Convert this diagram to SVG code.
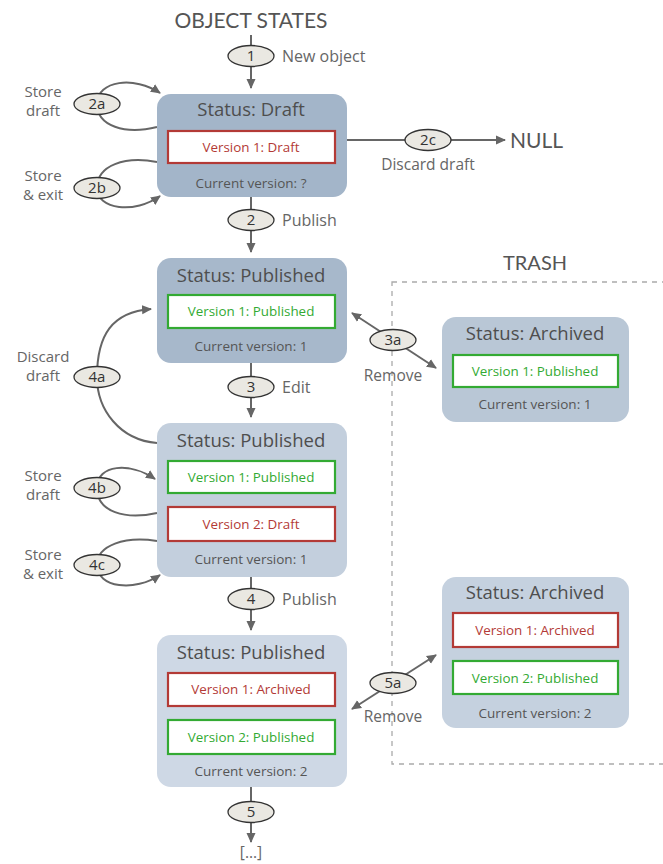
<svg xmlns="http://www.w3.org/2000/svg" width="663" height="864" viewBox="0 0 663 864">
<defs>
<marker id="ah" viewBox="0 0 10 10" refX="9" refY="5" markerWidth="10" markerHeight="10" markerUnits="userSpaceOnUse" orient="auto-start-reverse">
<path d="M0,0.5 L10,5 L0,9.5 Z" fill="#666"/>
</marker>
<style>
text{font-family:"Open Sans","DejaVu Sans",sans-serif;}
.title{font-family:"Lato","Open Sans",sans-serif;font-size:21px;fill:#555;}
.st{font-size:18.5px;fill:#4e4e4e;text-anchor:middle;}
.cur{font-size:13.5px;fill:#555;text-anchor:middle;}
.lbl{font-size:16px;fill:#666;}
.lblc{font-size:15.5px;fill:#666;text-anchor:middle;}
.side{font-size:15px;fill:#666;text-anchor:middle;}
.red{fill:#fff;stroke:#b33a36;stroke-width:2.2;}
.grn{fill:#fff;stroke:#33aa33;stroke-width:2.2;}
.rt{font-size:13.4px;fill:#b33a36;text-anchor:middle;}
.gt{font-size:13.4px;fill:#33aa33;text-anchor:middle;}
.ell{fill:#eae8e2;stroke:#333;stroke-width:1.3;}
.et{font-size:15px;fill:#333;text-anchor:middle;}
.con{fill:none;stroke:#666;stroke-width:2;}
</style>
</defs>
<rect width="663" height="864" fill="#fff"/>
<text class="title" x="251" y="28" text-anchor="middle">OBJECT STATES</text>
<text class="title" x="535" y="270" text-anchor="middle" style="font-size:20px">TRASH</text>
<rect x="392" y="282" width="290" height="482" fill="none" stroke="#aaa" stroke-width="1.3" stroke-dasharray="5,5"/>

<g id="connectors">
<path class="con" d="M251,35 V88" marker-end="url(#ah)"/>
<path class="con" d="M251,197 V252" marker-end="url(#ah)"/>
<path class="con" d="M251,363 V417" marker-end="url(#ah)"/>
<path class="con" d="M251,577 V630" marker-end="url(#ah)"/>
<path class="con" d="M251,787 V842" marker-end="url(#ah)"/>
<path class="con" d="M346,140 H505" marker-end="url(#ah)"/>
<path class="con" d="M157,127 C125,135 97,126 97,104 C97,80 135,76 160,93" marker-end="url(#ah)"/>
<path class="con" d="M157,162 C125,156 97,165 97,188 C97,210 135,214 160,196" marker-end="url(#ah)"/>
<path class="con" d="M157,443 C120,440 97,410 97,377 C97,335 112,312 151,309" marker-end="url(#ah)"/>
<path class="con" d="M157,513 C125,520 97,512 97,488 C97,464 130,462 155,479" marker-end="url(#ah)"/>
<path class="con" d="M157,541 C125,536 97,545 97,565 C97,588 135,592 160,575" marker-end="url(#ah)"/>
<path class="con" d="M352,313 L436,368" marker-start="url(#ah)" marker-end="url(#ah)"/>
<path class="con" d="M352,709 L436,655" marker-start="url(#ah)" marker-end="url(#ah)"/>
</g>

<g id="e1"><ellipse class="ell" cx="251" cy="56" rx="23" ry="10.5"/><text class="et" x="251" y="61">1</text><text class="lbl" x="282" y="62">New object</text></g>
<g id="e2"><ellipse class="ell" cx="251" cy="220" rx="23" ry="10.5"/><text class="et" x="251" y="225">2</text><text class="lbl" x="282" y="226">Publish</text></g>
<g id="e3"><ellipse class="ell" cx="251" cy="387" rx="23" ry="10.5"/><text class="et" x="251" y="392">3</text><text class="lbl" x="282" y="393">Edit</text></g>
<g id="e4"><ellipse class="ell" cx="251" cy="599" rx="23" ry="10.5"/><text class="et" x="251" y="604">4</text><text class="lbl" x="282" y="605">Publish</text></g>
<g id="e5"><ellipse class="ell" cx="251" cy="812" rx="23" ry="10.5"/><text class="et" x="251" y="817">5</text><text class="lblc" x="251" y="858">[...]</text></g>
<g id="e2a"><ellipse class="ell" cx="97" cy="104" rx="23" ry="10.5"/><text class="et" x="97" y="109">2a</text><text class="side" x="43" y="97">Store</text><text class="side" x="43" y="116">draft</text></g>
<g id="e2b"><ellipse class="ell" cx="97" cy="188" rx="23" ry="10.5"/><text class="et" x="97" y="193">2b</text><text class="side" x="43" y="181">Store</text><text class="side" x="43" y="200">&amp; exit</text></g>
<g id="e2c"><ellipse class="ell" cx="428" cy="140" rx="23" ry="10.5"/><text class="et" x="428" y="145">2c</text><text class="lblc" x="428" y="170">Discard draft</text><text class="title" x="510" y="148">NULL</text></g>
<g id="e4a"><ellipse class="ell" cx="97" cy="377" rx="23" ry="10.5"/><text class="et" x="97" y="382">4a</text><text class="side" x="43" y="362">Discard</text><text class="side" x="43" y="381">draft</text></g>
<g id="e4b"><ellipse class="ell" cx="97" cy="488" rx="23" ry="10.5"/><text class="et" x="97" y="493">4b</text><text class="side" x="43" y="481">Store</text><text class="side" x="43" y="500">draft</text></g>
<g id="e4c"><ellipse class="ell" cx="97" cy="565" rx="23" ry="10.5"/><text class="et" x="97" y="570">4c</text><text class="side" x="43" y="560">Store</text><text class="side" x="43" y="579">&amp; exit</text></g>
<g id="e3a"><ellipse class="ell" cx="393" cy="340" rx="23" ry="10.5"/><text class="et" x="393" y="345">3a</text><text class="lblc" x="393" y="381">Remove</text></g>
<g id="e5a"><ellipse class="ell" cx="393" cy="683" rx="23" ry="10.5"/><text class="et" x="393" y="688">5a</text><text class="lblc" x="393" y="722">Remove</text></g>

<g id="draft">
<rect x="157" y="94" width="190" height="103" rx="14" fill="#a3b5c9"/>
<text class="st" x="251" y="116">Status: Draft</text>
<rect class="red" x="168" y="131" width="167" height="32"/>
<text class="rt" x="251" y="152">Version 1: Draft</text>
<text class="cur" x="251" y="188">Current version: ?</text>
</g>
<g id="pub1">
<rect x="157" y="258" width="190" height="105" rx="14" fill="#a7b8cb"/>
<text class="st" x="251" y="282">Status: Published</text>
<rect class="grn" x="168" y="295" width="167" height="33"/>
<text class="gt" x="251" y="316">Version 1: Published</text>
<text class="cur" x="251" y="351">Current version: 1</text>
</g>
<g id="pub2">
<rect x="157" y="423" width="190" height="154" rx="14" fill="#c3cfdd"/>
<text class="st" x="251" y="447">Status: Published</text>
<rect class="grn" x="168" y="461" width="167" height="32"/>
<text class="gt" x="251" y="482">Version 1: Published</text>
<rect class="red" x="168" y="507" width="167" height="34"/>
<text class="rt" x="251" y="529">Version 2: Draft</text>
<text class="cur" x="251" y="564">Current version: 1</text>
</g>
<g id="pub3">
<rect x="157" y="635" width="190" height="152" rx="14" fill="#ced8e5"/>
<text class="st" x="251" y="659">Status: Published</text>
<rect class="red" x="168" y="673" width="167" height="33"/>
<text class="rt" x="251" y="694">Version 1: Archived</text>
<rect class="grn" x="168" y="720" width="167" height="34"/>
<text class="gt" x="251" y="742">Version 2: Published</text>
<text class="cur" x="251" y="776">Current version: 2</text>
</g>
<g id="arch1">
<rect x="442" y="317" width="187" height="105" rx="14" fill="#b9c7d6"/>
<text class="st" x="535" y="340">Status: Archived</text>
<rect class="grn" x="453" y="355" width="165" height="32"/>
<text class="gt" x="535" y="376">Version 1: Published</text>
<text class="cur" x="535" y="409">Current version: 1</text>
</g>
<g id="arch2">
<rect x="442" y="577" width="187" height="151" rx="14" fill="#c5d1df"/>
<text class="st" x="535" y="599">Status: Archived</text>
<rect class="red" x="453" y="613" width="165" height="34"/>
<text class="rt" x="535" y="635">Version 1: Archived</text>
<rect class="grn" x="453" y="661" width="165" height="33"/>
<text class="gt" x="535" y="683">Version 2: Published</text>
<text class="cur" x="535" y="718">Current version: 2</text>
</g>
</svg>
